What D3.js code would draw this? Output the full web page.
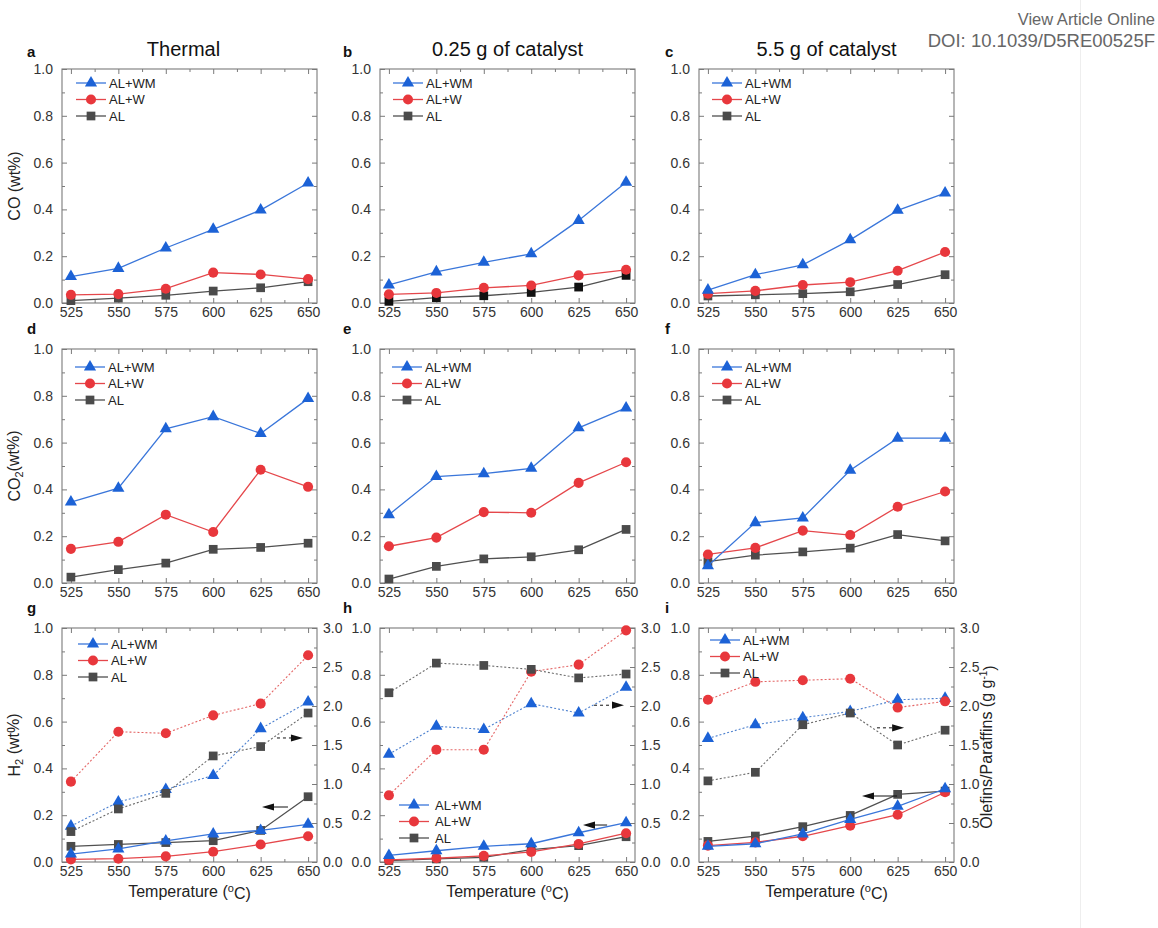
<!DOCTYPE html>
<html>
<head>
<meta charset="utf-8">
<script src="https://cdn.jsdelivr.net/npm/d3@7"></script>
<style>
  body { margin: 0; background: #fff; }
  svg text { font-family: Arial, "Liberation Sans", Helvetica, sans-serif; }
</style>
</head>
<body>
<svg id="fig" width="1158" height="928"></svg>
<script>
// ---------- data ----------
const temps = [525, 550, 575, 600, 625, 650];
const seriesNames = ["AL+WM", "AL+W", "AL"];
const columnTitles = ["Thermal", "0.25 g of catalyst", "5.5 g of catalyst"];
const panelLetters = ["a", "b", "c", "d", "e", "f", "g", "h", "i"];
const leftTicks = [0, 0.2, 0.4, 0.6, 0.8, 1.0];
const rightTicks = [0, 0.5, 1.0, 1.5, 2.0, 2.5, 3.0];

// CO yield (wt%)
const coThermalWM = [0.113, 0.148, 0.235, 0.315, 0.397, 0.513];
const coThermalW  = [0.035, 0.038, 0.061, 0.130, 0.122, 0.102];
const coThermalAL = [0.010, 0.021, 0.033, 0.051, 0.065, 0.091];
const coCat025WM  = [0.077, 0.133, 0.174, 0.210, 0.353, 0.516];
const coCat025W   = [0.037, 0.043, 0.065, 0.075, 0.118, 0.142];
const coCat025AL  = [0.007, 0.023, 0.031, 0.045, 0.068, 0.118];
const coCat55WM   = [0.055, 0.121, 0.163, 0.270, 0.396, 0.470];
const coCat55W    = [0.040, 0.052, 0.077, 0.089, 0.138, 0.218];
const coCat55AL   = [0.030, 0.035, 0.040, 0.048, 0.079, 0.121];

// CO2 yield (wt%)
const co2ThermalWM = [0.346, 0.405, 0.659, 0.711, 0.639, 0.788];
const co2ThermalW  = [0.146, 0.176, 0.292, 0.218, 0.484, 0.411];
const co2ThermalAL = [0.025, 0.057, 0.085, 0.144, 0.152, 0.170];
const co2Cat025WM  = [0.292, 0.455, 0.467, 0.490, 0.663, 0.748];
const co2Cat025W   = [0.157, 0.194, 0.303, 0.300, 0.428, 0.516];
const co2Cat025AL  = [0.017, 0.071, 0.103, 0.112, 0.142, 0.229];
const co2Cat55WM   = [0.074, 0.258, 0.278, 0.482, 0.619, 0.619];
const co2Cat55W    = [0.122, 0.150, 0.224, 0.205, 0.326, 0.391];
const co2Cat55AL   = [0.091, 0.119, 0.133, 0.149, 0.207, 0.180];

// H2 yield (wt%)
const h2ThermalWM = [0.034, 0.056, 0.090, 0.120, 0.135, 0.161];
const h2ThermalW  = [0.011, 0.014, 0.024, 0.044, 0.075, 0.110];
const h2ThermalAL = [0.067, 0.075, 0.083, 0.091, 0.135, 0.279];
const h2Cat025WM  = [0.028, 0.048, 0.067, 0.078, 0.125, 0.168];
const h2Cat025W   = [0.009, 0.016, 0.026, 0.043, 0.077, 0.123];
const h2Cat025AL  = [0.006, 0.013, 0.020, 0.053, 0.070, 0.108];
const h2Cat55WM   = [0.067, 0.078, 0.120, 0.182, 0.238, 0.313];
const h2Cat55W    = [0.070, 0.084, 0.110, 0.155, 0.202, 0.298];
const h2Cat55AL   = [0.088, 0.111, 0.151, 0.199, 0.289, 0.303];

// Olefins/Paraffins ratio (g g-1)
const opThermalWM = [0.46, 0.77, 0.93, 1.11, 1.71, 2.05];
const opThermalW  = [1.03, 1.67, 1.65, 1.88, 2.03, 2.65];
const opThermalAL = [0.39, 0.68, 0.88, 1.36, 1.48, 1.91];
const opCat025WM  = [1.38, 1.74, 1.70, 2.03, 1.91, 2.24];
const opCat025W   = [0.855, 1.44, 1.44, 2.44, 2.53, 2.97];
const opCat025AL  = [2.17, 2.55, 2.52, 2.47, 2.36, 2.41];
const opCat55WM   = [1.585, 1.76, 1.85, 1.93, 2.08, 2.10];
const opCat55W    = [2.08, 2.31, 2.33, 2.35, 1.98, 2.06];
const opCat55AL   = [1.04, 1.15, 1.76, 1.91, 1.50, 1.69];

// ---------- layout & style ----------
const svg = d3.select("#fig");
svg.append("rect").attr("width", 1158).attr("height", 928).attr("fill", "#fff");

const colX = [62, 380, 699];
const rowY = [69, 349, 628];
const letterY = [57, 334, 613];
const letterX = [27, 343, 665];
const PW = 255, PH = 234;
const xDomain = [520.3, 654.7];
const frameColor = "#7a7a7a";
const tickText = "#333";

const style = {
  "AL+WM": { mark: "#1c62d6", line: "#3a76da", dot: "#4f82cf", sym: d3.symbolTriangle, size: 64 },
  "AL+W":  { mark: "#e8373c", line: "#e5474b", dot: "#e46565", sym: d3.symbolCircle,   size: 80 },
  "AL":    { mark: "#4b4b4b", line: "#505050", dot: "#6a6a6a", sym: d3.symbolSquare,   size: 76 }
};

const panels = [
  { row: 0, col: 0, left: [coThermalWM, coThermalW, coThermalAL], legend: [14, 14] },
  { row: 0, col: 1, left: [coCat025WM, coCat025W, coCat025AL], legend: [13, 14], alMark: "#111" },
  { row: 0, col: 2, left: [coCat55WM, coCat55W, coCat55AL], legend: [13, 14] },
  { row: 1, col: 0, left: [co2ThermalWM, co2ThermalW, co2ThermalAL], legend: [13, 18] },
  { row: 1, col: 1, left: [co2Cat025WM, co2Cat025W, co2Cat025AL], legend: [12, 18] },
  { row: 1, col: 2, left: [co2Cat55WM, co2Cat55W, co2Cat55AL], legend: [13, 18] },
  { row: 2, col: 0, left: [h2ThermalWM, h2ThermalW, h2ThermalAL],
    right: [opThermalWM, opThermalW, opThermalAL], legend: [16, 16],
    arrowR: [633.6, 647.3, 1.59], arrowL: [625.7, 639.4, 0.235] },
  { row: 2, col: 1, left: [h2Cat025WM, h2Cat025W, h2Cat025AL],
    right: [opCat025WM, opCat025W, opCat025AL], legend: [19, 177], textGap: 6,
    arrowR: [633.1, 648.9, 2.01], arrowL: [627.3, 640.0, 0.158] },
  { row: 2, col: 2, left: [h2Cat55WM, h2Cat55W, h2Cat55AL],
    right: [opCat55WM, opCat55W, opCat55AL], legend: [11, 12],
    arrowR: [614.1, 628.4, 1.72], arrowL: [606.2, 624.7, 0.282] }
];

function styleAxis(sel, showText) {
  sel.select(".domain").remove();
  sel.selectAll(".tick line").attr("stroke", frameColor).attr("stroke-width", 1);
  sel.selectAll(".tick text")
    .attr("fill", tickText)
    .style("font-size", "14px")
    .attr("font-family", "Arial, 'Liberation Sans', sans-serif")
    .style("display", showText ? null : "none");
}

function arrow(g, x0, x1, yPix, pointRight, dashed) {
  const head = 12, half = 3.6;
  if (pointRight) {
    g.append("line").attr("x1", x0).attr("x2", x1 - head + 1).attr("y1", yPix).attr("y2", yPix)
      .attr("stroke", "#111").attr("stroke-width", 1)
      .attr("stroke-dasharray", dashed ? "3,3" : null);
    g.append("path").attr("d", `M${x1},${yPix}L${x1 - head},${yPix - half}L${x1 - head},${yPix + half}Z`).attr("fill", "#111");
  } else {
    g.append("line").attr("x1", x0 + head - 1).attr("x2", x1).attr("y1", yPix).attr("y2", yPix)
      .attr("stroke", "#111").attr("stroke-width", 1)
      .attr("stroke-dasharray", dashed ? "3,3" : null);
    g.append("path").attr("d", `M${x0},${yPix}L${x0 + head},${yPix - half}L${x0 + head},${yPix + half}Z`).attr("fill", "#111");
  }
}

panels.forEach((p, idx) => {
  const g = svg.append("g").attr("transform", `translate(${colX[p.col]},${rowY[p.row]})`);
  const x = d3.scaleLinear().domain(xDomain).range([0, PW]);
  const y = d3.scaleLinear().domain([0, 1]).range([PH, 0]);
  const yR = d3.scaleLinear().domain([0, 3]).range([PH, 0]);
  const xMinor = temps.slice(0, -1).map(t => t + 12.5);
  const yMinor = [0.1, 0.3, 0.5, 0.7, 0.9];
  const yRMinor = d3.range(0.25, 3, 0.5);

  // frame
  g.append("rect").attr("width", PW).attr("height", PH)
    .attr("fill", "none").attr("stroke", frameColor).attr("stroke-width", 1.1);

  // axes (ticks point inward)
  g.append("g").call(d3.axisLeft(y).tickValues(leftTicks).tickSize(-5).tickPadding(9)
      .tickFormat(d3.format(".1f"))).call(s => styleAxis(s, true));
  g.append("g").call(d3.axisLeft(y).tickValues(yMinor).tickSize(-3).tickFormat(""))
    .call(s => styleAxis(s, false));
  g.append("g").attr("transform", `translate(0,${PH})`)
    .call(d3.axisBottom(x).tickValues(temps).tickSize(-5).tickPadding(4).tickFormat(d3.format("d")))
    .call(s => styleAxis(s, true));
  g.append("g").attr("transform", `translate(0,${PH})`)
    .call(d3.axisBottom(x).tickValues(xMinor).tickSize(-3).tickFormat(""))
    .call(s => styleAxis(s, false));
  g.append("g").call(d3.axisTop(x).tickValues(temps).tickSize(-5).tickFormat(""))
    .call(s => styleAxis(s, false));
  g.append("g").call(d3.axisTop(x).tickValues(xMinor).tickSize(-3).tickFormat(""))
    .call(s => styleAxis(s, false));
  if (p.right) {
    g.append("g").attr("transform", `translate(${PW},0)`)
      .call(d3.axisRight(yR).tickValues(rightTicks).tickSize(-5).tickPadding(6)
        .tickFormat(d3.format(".1f"))).call(s => styleAxis(s, true));
    g.append("g").attr("transform", `translate(${PW},0)`)
      .call(d3.axisRight(yR).tickValues(yRMinor).tickSize(-3).tickFormat(""))
      .call(s => styleAxis(s, false));
  } else {
    g.append("g").attr("transform", `translate(${PW},0)`)
      .call(d3.axisRight(y).tickValues(leftTicks).tickSize(-5).tickFormat(""))
      .call(s => styleAxis(s, false));
    g.append("g").attr("transform", `translate(${PW},0)`)
      .call(d3.axisRight(y).tickValues(yMinor).tickSize(-3).tickFormat(""))
      .call(s => styleAxis(s, false));
  }

  const symbolGen = (name) => d3.symbol().type(style[name].sym).size(style[name].size);
  const markColor = (name) => (name === "AL" && p.alMark) ? p.alMark : style[name].mark;

  // dotted series on the right axis (drawn first, underneath)
  if (p.right) {
    seriesNames.forEach((name, i) => {
      const vals = p.right[i];
      const line = d3.line().x((d, j) => x(temps[j])).y(d => yR(d));
      g.append("path").datum(vals).attr("d", line).attr("fill", "none")
        .attr("stroke", style[name].dot).attr("stroke-width", 1.1).attr("stroke-dasharray", "2,2");
      g.selectAll(null).data(vals).enter().append("path")
        .attr("transform", (d, j) => `translate(${x(temps[j])},${yR(d)})`)
        .attr("d", symbolGen(name)()).attr("fill", markColor(name));
    });
  }

  // solid series on the left axis (AL drawn first so coloured ones sit on top)
  [2, 1, 0].forEach(i => {
    const name = seriesNames[i];
    const vals = p.left[i];
    const line = d3.line().x((d, j) => x(temps[j])).y(d => y(d));
    g.append("path").datum(vals).attr("d", line).attr("fill", "none")
      .attr("stroke", style[name].line).attr("stroke-width", 1.3);
    g.selectAll(null).data(vals).enter().append("path")
      .attr("transform", (d, j) => `translate(${x(temps[j])},${y(d)})`)
      .attr("d", symbolGen(name)()).attr("fill", markColor(name));
  });

  // arrows indicating which axis each line set belongs to
  if (p.arrowR) arrow(g, x(p.arrowR[0]), x(p.arrowR[1]), yR(p.arrowR[2]), true, true);
  if (p.arrowL) arrow(g, x(p.arrowL[0]), x(p.arrowL[1]), y(p.arrowL[2]), false, false);

  // legend
  const [lx, ly] = p.legend;
  const gap = p.textGap || 3;
  seriesNames.forEach((name, i) => {
    const yy = ly + i * 16.5;
    g.append("line").attr("x1", lx).attr("x2", lx + 30).attr("y1", yy).attr("y2", yy)
      .attr("stroke", style[name].line).attr("stroke-width", 1.3);
    g.append("path").attr("transform", `translate(${lx + 15},${yy})`)
      .attr("d", symbolGen(name)()).attr("fill", style[name].mark);
    g.append("text").attr("x", lx + 30 + gap).attr("y", yy).attr("dy", "0.36em")
      .attr("fill", "#222").style("font-size", "13px").text(name);
  });

  // panel letter
  svg.append("text").attr("x", letterX[p.col]).attr("y", letterY[p.row])
    .attr("fill", "#111").style("font-size", "15px").style("font-weight", "bold")
    .text(panelLetters[idx]);
});

// column titles
columnTitles.forEach((t, c) => {
  svg.append("text").attr("x", colX[c] + PW / 2 - (c === 0 ? 6 : 0)).attr("y", 56)
    .attr("text-anchor", "middle").attr("fill", "#111").style("font-size", "20px").text(t);
});

// y-axis titles
function yTitle(cx, cy, parts) {
  const t = svg.append("text").attr("transform", `translate(${cx},${cy}) rotate(-90)`)
    .attr("text-anchor", "middle").attr("fill", "#222").style("font-size", "16px");
  parts.forEach(([txt, kind]) => {
    const s = t.append("tspan").text(txt);
    if (kind === "sub") s.attr("dy", "0.3em").style("font-size", "11px");
    if (kind === "after-sub") s.attr("dy", "-0.3em");
    if (kind === "sup") s.attr("dy", "-0.5em").style("font-size", "10px");
    if (kind === "after-sup") s.attr("dy", "0.5em");
  });
}
yTitle(20, rowY[0] + PH / 2, [["CO (wt%)", null]]);
yTitle(20, rowY[1] + PH / 2, [["CO", null], ["2", "sub"], ["(wt%)", "after-sub"]]);
yTitle(20, rowY[2] + PH / 2, [["H", null], ["2", "sub"], [" (wt%)", "after-sub"]]);
yTitle(992, rowY[2] + PH / 2 + 2, [["Olefins/Paraffins (g g", null], ["-1", "sup"], [")", "after-sup"]]);

// x-axis titles
colX.forEach(cx => {
  const t = svg.append("text").attr("x", cx + PW / 2).attr("y", 897)
    .attr("text-anchor", "middle").attr("fill", "#222").style("font-size", "16px");
  t.append("tspan").text("Temperature (");
  t.append("tspan").text("o").attr("dy", "-0.45em").style("font-size", "11px");
  t.append("tspan").text("C)").attr("dy", "0.45em");
});

// page header
svg.append("line").attr("x1", 1080.5).attr("x2", 1080.5).attr("y1", 0).attr("y2", 928)
  .attr("stroke", "#eeeeee").attr("stroke-width", 1);
svg.append("text").attr("x", 1155).attr("y", 25).attr("text-anchor", "end")
  .attr("fill", "#666").style("font-size", "16.5px").text("View Article Online");
svg.append("text").attr("x", 1155).attr("y", 47).attr("text-anchor", "end")
  .attr("fill", "#666").style("font-size", "18.5px").text("DOI: 10.1039/D5RE00525F");
</script>
</body>
</html>
